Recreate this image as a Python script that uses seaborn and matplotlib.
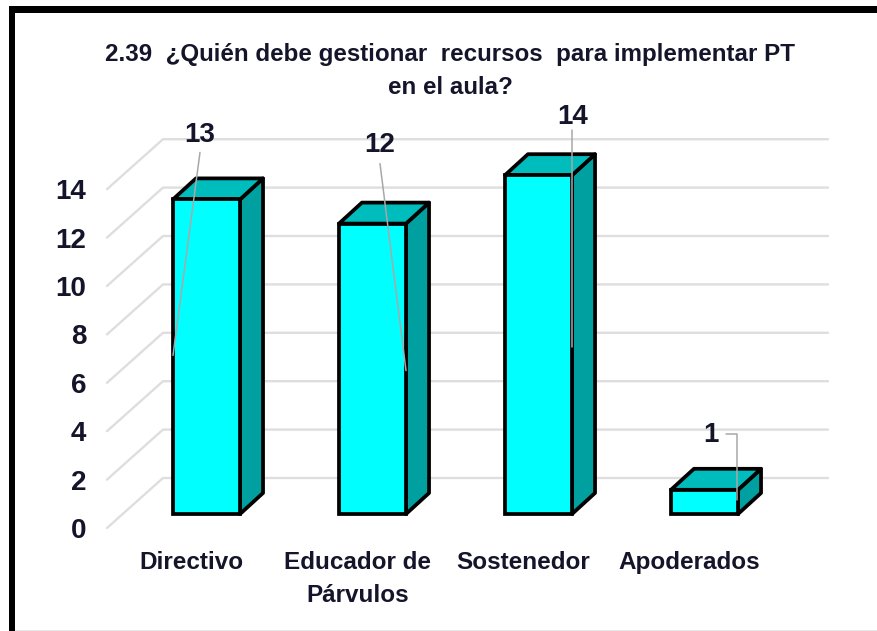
# chart 2.39 - fake 3D columns
import numpy as np
import seaborn as sns
import matplotlib.pyplot as plt
from matplotlib.patches import Polygon, Rectangle

categories = ["Directivo", "Educador de\nPárvulos", "Sostenedor", "Apoderados"]
values = [13, 12, 14, 1]
yticks = [0, 2, 4, 6, 8, 10, 12, 14]
title = "2.39  ¿Quién debe gestionar  recursos  para implementar PT\nen el aula?"

W, H = 878, 631
PX_X = 1 / 166    # one pixel in x data units
PX_Y = 1 / 24.2   # one pixel in y data units
DEPTH_X = 23 * PX_X
DEPTH_Y = 21 * PX_Y
EDGE = 2.7

sns.set_theme(style="white")
plt.rcParams["font.family"] = ["Liberation Sans", "DejaVu Sans"]
TEXT = "#14142a"

fig = plt.figure(figsize=(W / 100, H / 100), dpi=100, facecolor="white")
# axes run a bit below the bars so that the shifted 0 tick stays in view
ax = fig.add_axes([107 / W, (H - 534) / H, (828 - 107) / W, (534 - 100) / H])
ax.patch.set_alpha(0)

sns.barplot(x=categories, y=values, width=0.404, color="#00ffff", saturation=1,
            edgecolor="black", linewidth=EDGE, ax=ax, zorder=3)
sns.despine(ax=ax, left=True, bottom=True)

# back wall and left wall grid
wall = 36 * PX_Y
for t in yticks:
    ax.plot([-99.5 * PX_X, -43.5 * PX_X, 621.5 * PX_X],
            [t + wall - 50 * PX_Y, t + wall, t + wall],
            color="#dedede", lw=1.7, clip_on=False, zorder=1)

# side and top faces from the bars seaborn drew
for bar in ax.patches[:len(values)]:
    bar.set_clip_on(False)
    x0, x1 = bar.get_x(), bar.get_x() + bar.get_width()
    v = bar.get_height()
    side = [(x1, 0), (x1, v), (x1 + DEPTH_X, v + DEPTH_Y), (x1 + DEPTH_X, DEPTH_Y)]
    top = [(x0, v), (x1, v), (x1 + DEPTH_X, v + DEPTH_Y), (x0 + DEPTH_X, v + DEPTH_Y)]
    ax.add_patch(Polygon(side, fc="#00a0a0", ec="black", lw=EDGE, joinstyle="round", clip_on=False, zorder=2.5))
    ax.add_patch(Polygon(top, fc="#00bdbd", ec="black", lw=EDGE, joinstyle="round", clip_on=False, zorder=2.5))

# data labels and leader lines, offsets in pixels from the top centre of each bar
label_off = [(-6.5, 64), (7.5, 79), (34.5, 58), (6.5, 55)]
leader_off = [((-6.5, 47), (-33.5, -156)), ((7.5, 60), (33.5, -147)),
              ((33.5, 45), (33.5, -172)), ((21.5, 56), (32.5, -10))]
for i, v in enumerate(values):
    ax.text(i + label_off[i][0] * PX_X, v + label_off[i][1] * PX_Y, str(v), ha="center", va="center",
            fontsize=20, fontweight="bold", color=TEXT, zorder=6)
    (a, b), (c, d) = leader_off[i]
    xs = [i + a * PX_X, i + c * PX_X]
    ys = [v + b * PX_Y, v + d * PX_Y]
    if i == 3:
        xs.insert(1, xs[1])
        ys.insert(1, ys[0])
    ax.plot(xs, ys, color="#a8a8a8", lw=1.1, clip_on=False, zorder=5)

ax.set_yticks(np.array(yticks) - 14 * PX_Y, labels=yticks)
ax.set_xticks(np.arange(len(categories)) - 15 * PX_X, labels=categories)
ax.set_xlim(-99.5 * PX_X, 621.5 * PX_X)
ax.set_ylim(-20 * PX_Y, 414 * PX_Y)
ax.tick_params(axis="y", length=0, pad=15, labelsize=20, labelcolor=TEXT)
ax.tick_params(axis="x", length=0, pad=12, labelsize=17.5, labelcolor=TEXT)
for lab in ax.get_xticklabels() + ax.get_yticklabels():
    lab.set_fontweight("bold")
for lab in ax.get_xticklabels():
    lab.set_linespacing(1.6)
ax.set_xlabel("")
ax.set_ylabel("")

fig.text(450 / W, 1 - 71 / H, title, ha="center", va="center", fontsize=17.4, fontweight="bold",
         color=TEXT, linespacing=1.55)

# thick frame of the picture, open on the right
fig.add_artist(Rectangle((9 / W, 1 - 12.5 / H), (W - 9) / W, 6.5 / H, transform=fig.transFigure, fc="black", ec="none"))
fig.add_artist(Rectangle((9 / W, 0), 6 / W, 1 - 6 / H, transform=fig.transFigure, fc="black", ec="none"))
fig.add_artist(Rectangle((15 / W, 0), (W - 15) / W, 1.5 / H, transform=fig.transFigure, fc="#e8e8e8", ec="none"))

fig.savefig("out.png", dpi=100)
